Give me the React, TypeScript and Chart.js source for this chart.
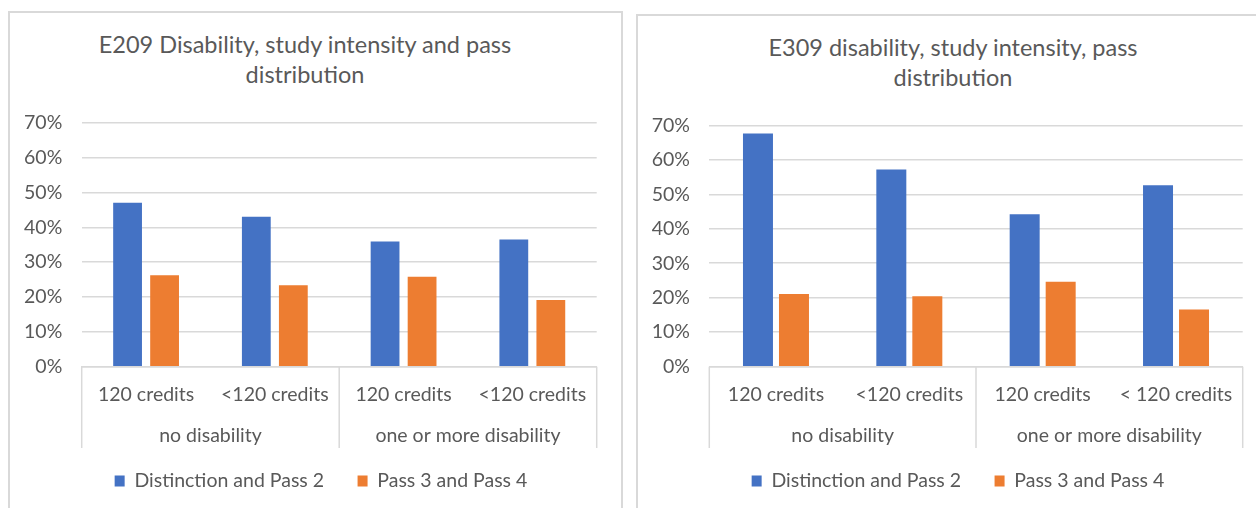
import React, { useEffect, useRef } from 'react';
import { Chart, registerables } from 'chart.js';

Chart.register(...registerables);

// ---------- data ----------
const seriesNames = ['Distinction and Pass 2', 'Pass 3 and Pass 4'];
const seriesColors = ['#4472C4', '#ED7D31'];
const groupLabels = ['no disability', 'one or more disability'];
const groupSizes = [2, 2];

const e209Title = ['E209 Disability, study intensity and pass', 'distribution'];
const e209Categories = ['120 credits', '<120 credits', '120 credits', '<120 credits'];
const e209Distinction = [47.0, 43.0, 35.9, 36.5];
const e209Pass34 = [26.2, 23.4, 25.8, 19.1];

const e309Title = ['E309 disability, study intensity, pass', 'distribution'];
const e309Categories = ['120 credits', '<120 credits', '120 credits', '< 120 credits'];
const e309Distinction = [67.6, 57.2, 44.2, 52.6];
const e309Pass34 = [21.1, 20.4, 24.6, 16.6];

const yMax = 70;
const yStep = 10;

// ---------- style ----------
const FONT = 'Lato';
const FONT_SIZE = 19.5;
const TEXT = '#595959';
const GRID = '#d9d9d9';

// Multi-level category axis: group separators and group labels,
// positioned through the x scale.
const groupAxis = {
  id: 'groupAxis',
  afterDraw(chart: any, _args: any, opts: any) {
    const x = chart.scales.x;
    const ctx = chart.ctx;
    ctx.save();
    ctx.strokeStyle = opts.color;
    ctx.lineWidth = opts.width;
    let start = 0;
    const bounds: number[] = [-0.5];
    groupLabels.forEach((label, gi) => {
      const n = groupSizes[gi];
      const mid = start + (n - 1) / 2;
      ctx.font = `${FONT_SIZE}px ${FONT}`;
      ctx.fillStyle = TEXT;
      ctx.textAlign = 'center';
      ctx.textBaseline = 'alphabetic';
      ctx.fillText(label, x.getPixelForValue(mid), x.top + opts.labelOffset);
      start += n;
      bounds.push(start - 0.5);
    });
    for (const b of bounds) {
      const px = x.getPixelForValue(b);
      ctx.beginPath();
      ctx.moveTo(px, x.top);
      ctx.lineTo(px, x.top + opts.length);
      ctx.stroke();
    }
    ctx.restore();
  },
};

type Cfg = {
  categories: string[];
  a: number[];
  b: number[];
  width: number;
  padL: number;
  padR: number;
  padTop: number;
  yWidth: number;
  rightSpace: number;
  catPct: number;
  barPct: number;
};

function BarChart(props: Cfg) {
  const ref = useRef<HTMLCanvasElement>(null);
  useEffect(() => {
    if (!ref.current) return;
    const font = { family: FONT, size: FONT_SIZE };
    const chart = new Chart(ref.current, {
      type: 'bar',
      data: {
        labels: props.categories,
        datasets: [
          { label: seriesNames[0], data: props.a, backgroundColor: seriesColors[0], borderWidth: 0, categoryPercentage: props.catPct, barPercentage: props.barPct },
          { label: seriesNames[1], data: props.b, backgroundColor: seriesColors[1], borderWidth: 0, categoryPercentage: props.catPct, barPercentage: props.barPct },
        ],
      },
      options: {
        responsive: false,
        animation: false,
        layout: { padding: { left: props.padL, right: props.padR, top: props.padTop, bottom: 7.3 } },
        plugins: {
          legend: {
            position: 'bottom',
            labels: { boxWidth: 10, boxHeight: 11, padding: 33.5, color: TEXT, font },
          },
          tooltip: { enabled: false },
          title: { display: false },
          groupAxis: { color: GRID, width: 1.5, length: 81.3, labelOffset: 75 },
        } as any,
        scales: {
          x: {
            type: 'category',
            offset: true,
            grid: { display: false, drawTicks: false },
            border: { display: true, color: GRID, width: 1.5 },
            ticks: { color: TEXT, font, padding: 16, maxRotation: 0, autoSkip: false },
            afterFit: (s: any) => { s.height = 71; },
          },
          y: {
            min: 0,
            max: yMax,
            ticks: { stepSize: yStep, color: TEXT, font, padding: 19.4, callback: (v: any) => `${v}%` },
            grid: { color: GRID, lineWidth: 1.5, drawTicks: false },
            border: { display: false },
            afterFit: (s: any) => { s.width = props.yWidth; },
          },
          ySpace: {
            type: 'linear',
            position: 'right',
            display: true,
            grid: { display: false, drawTicks: false },
            border: { display: false },
            ticks: { display: false },
            afterFit: (s: any) => { s.width = props.rightSpace; },
          },
        } as any,
      },
      plugins: [groupAxis],
    } as any);
    return () => chart.destroy();
  }, []);
  return <canvas ref={ref} width={props.width} height={508} style={{ width: props.width, height: 508, display: 'block' }} />;
}

function Title({ lines, center, top }: { lines: string[]; center: number; top: number }) {
  return (
    <div
      style={{
        position: 'absolute',
        left: center - 300,
        width: 600,
        top,
        textAlign: 'center',
        fontFamily: FONT,
        fontSize: 23.5,
        lineHeight: '30px',
        color: TEXT,
        whiteSpace: 'nowrap',
      }}
    >
      {lines.map((l, i) => (
        <div key={i}>{l}</div>
      ))}
    </div>
  );
}

export default function App() {
  return (
    <div style={{ position: 'fixed', left: 0, top: 0, width: 1256, height: 508, overflow: 'hidden', background: '#fff' }}>
      <div style={{ position: 'absolute', left: 8, top: 11, width: 615, height: 540, border: `2px solid ${GRID}`, boxSizing: 'border-box' }} />
      <div style={{ position: 'absolute', left: 636, top: 14, width: 640, height: 540, border: `2px solid ${GRID}`, boxSizing: 'border-box' }} />
      <Title lines={e209Title} center={305} top={29} />
      <Title lines={e309Title} center={953} top={32} />
      <div style={{ position: 'absolute', left: 0, top: 0 }}>
        <BarChart categories={e209Categories} a={e209Distinction} b={e209Pass34} width={632} padL={19.7} padR={9.7} padTop={122.7} yWidth={62} rightSpace={25.6} catPct={0.575} barPct={0.778} />
      </div>
      <div style={{ position: 'absolute', left: 636, top: 0 }}>
        <BarChart categories={e309Categories} a={e309Distinction} b={e309Pass34} width={640} padL={13.3} padR={9.3} padTop={125.3} yWidth={60} rightSpace={24} catPct={0.54} barPct={0.833} />
      </div>
    </div>
  );
}
